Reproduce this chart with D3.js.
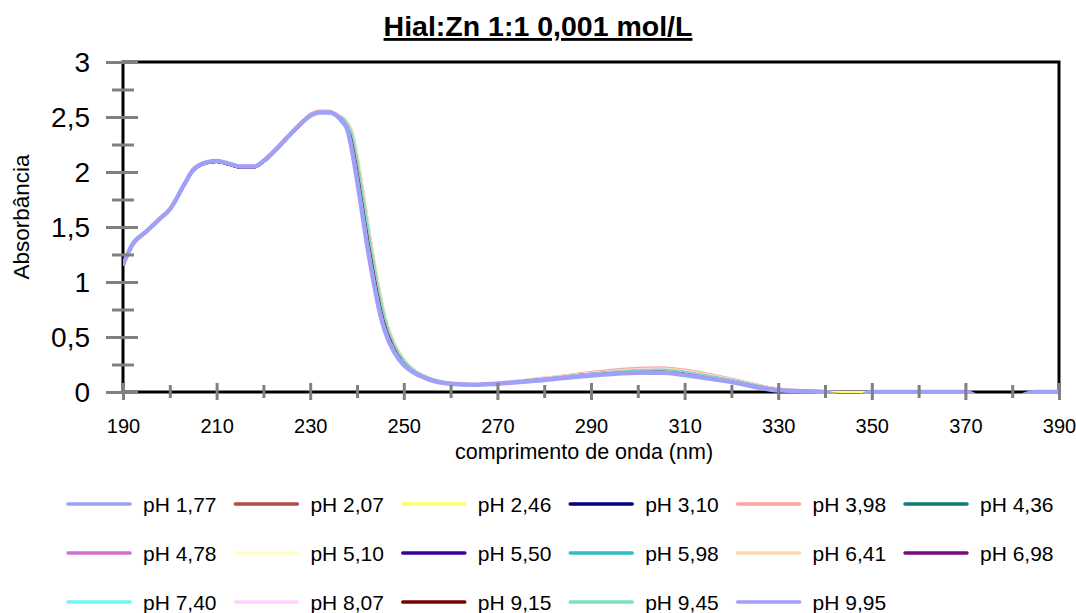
<!DOCTYPE html>
<html>
<head>
<meta charset="utf-8">
<script src="https://cdn.jsdelivr.net/npm/d3@7"></script>
<style>
  html, body { margin: 0; padding: 0; background: #fff; }
  svg { display: block; font-family: "Liberation Sans", Arial, Helvetica, sans-serif; }
</style>
</head>
<body>
<svg id="chart" width="1076" height="613"></svg>
<script>
// Wavelengths (nm) shared by every spectrum
const wavelengths = [190,192,195,198,200,203,205,208,210,213,215,218,220,223,225,228,230,232,234,236,
  237,238,239,240,241,242,243,244,245,246,248,
  250,252,255,260,265,
  270,280,290,300,305,310,320,330,
  340,345,350,360,370,375,380,385,390];

// Absorbance spectra, one array per pH
const ph177 = [1.16,1.34,1.47,1.58,1.67,1.88,2.02,2.09,2.10,2.07,2.05,2.05,2.10,2.22,2.31,2.44,2.51,2.54,2.54,2.50,
  2.46,2.40,2.23,1.98,1.72,1.44,1.18,0.94,0.73,0.57,0.37, 0.25,0.185,0.123,0.076,0.066,
  0.076,0.112,0.153,0.178,0.18,0.16,0.094,0.017, 0.002,-0.08,0,0,0,-0.08,-0.06,0,0];
const ph207 = [1.15,1.33,1.46,1.57,1.66,1.87,2.01,2.08,2.09,2.06,2.04,2.04,2.09,2.21,2.31,2.44,2.52,2.55,2.55,2.51,
  2.49,2.436,2.34,2.13,1.876,1.60,1.33,1.084,0.86,0.67,0.43, 0.29,0.205,0.135,0.082,0.07,
  0.082,0.125,0.172,0.205,0.21,0.19,0.113,0.027, 0.003,-0.08,0,0,0,-0.08,-0.06,0,0];
const ph246 = [1.15,1.33,1.45,1.57,1.66,1.87,2.01,2.08,2.10,2.07,2.05,2.05,2.09,2.21,2.30,2.43,2.51,2.54,2.55,2.51,
  2.50,2.45,2.38,2.18,1.93,1.66,1.38,1.13,0.90,0.70,0.45, 0.30,0.21,0.14,0.085,0.072,
  0.084,0.128,0.176,0.21,0.215,0.195,0.117,0.029, 0.004,0,0,0,0,-0.08,-0.06,0,0];
const ph310 = [1.15,1.33,1.46,1.57,1.66,1.87,2.01,2.08,2.09,2.06,2.04,2.04,2.09,2.21,2.30,2.43,2.51,2.54,2.54,2.51,
  2.485,2.43,2.32,2.105,1.85,1.576,1.305,1.06,0.84,0.655,0.42, 0.285,0.20,0.132,0.08,0.069,
  0.08,0.12,0.165,0.195,0.20,0.18,0.107,0.024, 0.002,-0.08,0,0,0,-0.08,-0.06,0,0];
const ph398 = [1.16,1.34,1.46,1.58,1.67,1.88,2.02,2.09,2.11,2.08,2.06,2.06,2.10,2.22,2.32,2.45,2.53,2.56,2.56,2.52,
  2.49,2.436,2.34,2.13,1.876,1.60,1.33,1.084,0.86,0.67,0.43, 0.295,0.21,0.138,0.085,0.072,
  0.086,0.132,0.182,0.22,0.225,0.204,0.123,0.032, 0.005,-0.08,0,0,0,-0.08,-0.06,0,0];
const ph436 = [1.15,1.33,1.46,1.57,1.66,1.87,2.01,2.08,2.10,2.07,2.05,2.05,2.09,2.21,2.31,2.44,2.51,2.54,2.54,2.51,
  2.495,2.443,2.36,2.155,1.903,1.632,1.355,1.107,0.88,0.685,0.44, 0.295,0.208,0.137,0.083,0.071,
  0.081,0.123,0.168,0.20,0.205,0.185,0.11,0.026, 0.003,-0.08,0,0,0,-0.08,-0.06,0,0];
const ph478 = [1.16,1.34,1.46,1.58,1.66,1.88,2.02,2.09,2.10,2.07,2.05,2.05,2.10,2.22,2.31,2.44,2.52,2.55,2.55,2.51,
  2.48,2.42,2.30,2.08,1.82,1.55,1.28,1.04,0.82,0.64,0.41, 0.28,0.198,0.13,0.08,0.069,
  0.08,0.12,0.164,0.194,0.20,0.18,0.106,0.024, 0.002,-0.08,0,0,0,-0.08,-0.06,0,0];
const ph510 = [1.15,1.33,1.45,1.57,1.66,1.87,2.01,2.08,2.09,2.06,2.04,2.04,2.09,2.21,2.30,2.43,2.51,2.54,2.54,2.51,
  2.50,2.45,2.37,2.17,1.92,1.65,1.37,1.12,0.89,0.70,0.45, 0.30,0.21,0.14,0.085,0.072,
  0.083,0.126,0.173,0.206,0.21,0.19,0.114,0.028, 0.003,-0.08,0,0,0,-0.08,-0.06,0,0];
const ph550 = [1.15,1.33,1.46,1.57,1.66,1.87,2.01,2.08,2.09,2.06,2.04,2.04,2.09,2.21,2.30,2.43,2.51,2.54,2.54,2.50,
  2.48,2.43,2.31,2.10,1.84,1.57,1.30,1.06,0.84,0.65,0.42, 0.283,0.20,0.132,0.08,0.069,
  0.08,0.12,0.165,0.196,0.20,0.18,0.107,0.024, 0.002,-0.08,0,0,0,-0.08,-0.06,0,0];
const ph598 = [1.15,1.33,1.46,1.57,1.66,1.87,2.01,2.08,2.10,2.07,2.05,2.05,2.09,2.21,2.31,2.44,2.51,2.54,2.55,2.51,
  2.495,2.44,2.36,2.15,1.90,1.63,1.35,1.10,0.88,0.685,0.44, 0.295,0.207,0.136,0.083,0.071,
  0.081,0.124,0.169,0.201,0.205,0.186,0.11,0.026, 0.003,-0.08,0,0,0,-0.08,-0.06,0,0];
const ph641 = [1.15,1.33,1.46,1.57,1.66,1.87,2.01,2.08,2.10,2.07,2.05,2.05,2.09,2.21,2.31,2.44,2.52,2.55,2.55,2.52,
  2.50,2.45,2.38,2.18,1.93,1.66,1.38,1.13,0.90,0.70,0.45, 0.30,0.21,0.14,0.085,0.072,
  0.084,0.128,0.176,0.21,0.215,0.196,0.117,0.029, 0.003,-0.08,0,0,0,-0.08,-0.06,0,0];
const ph698 = [1.15,1.33,1.46,1.57,1.66,1.87,2.01,2.08,2.09,2.06,2.04,2.04,2.09,2.21,2.30,2.43,2.51,2.54,2.54,2.50,
  2.48,2.42,2.30,2.08,1.82,1.55,1.28,1.04,0.82,0.64,0.41, 0.28,0.197,0.13,0.079,0.068,
  0.079,0.118,0.162,0.19,0.195,0.176,0.104,0.022, 0.002,-0.08,0,0,0,-0.08,-0.06,0,0];
const ph740 = [1.16,1.34,1.46,1.58,1.67,1.88,2.02,2.09,2.10,2.07,2.05,2.05,2.10,2.22,2.31,2.44,2.51,2.54,2.54,2.50,
  2.475,2.415,2.28,2.055,1.795,1.52,1.255,1.015,0.80,0.625,0.405, 0.27,0.195,0.13,0.078,0.067,
  0.078,0.116,0.16,0.186,0.19,0.171,0.10,0.02, 0.002,-0.08,0,0,0,-0.08,-0.06,0,0];
const ph807 = [1.15,1.33,1.46,1.57,1.66,1.87,2.01,2.08,2.10,2.07,2.05,2.05,2.10,2.22,2.31,2.44,2.52,2.55,2.55,2.51,
  2.495,2.44,2.36,2.15,1.90,1.63,1.355,1.105,0.88,0.685,0.44, 0.295,0.208,0.137,0.084,0.071,
  0.082,0.125,0.172,0.205,0.21,0.19,0.113,0.027, 0.003,-0.08,0,0,0,-0.08,-0.06,0,0];
const ph915 = [1.15,1.33,1.46,1.57,1.66,1.87,2.01,2.08,2.09,2.06,2.04,2.04,2.09,2.21,2.30,2.43,2.51,2.54,2.54,2.50,
  2.48,2.42,2.30,2.08,1.82,1.55,1.28,1.04,0.82,0.64,0.41, 0.28,0.198,0.13,0.08,0.069,
  0.08,0.12,0.165,0.195,0.20,0.18,0.107,0.024, 0.002,-0.08,0,0,0,-0.08,-0.06,0,0];
const ph945 = [1.15,1.33,1.46,1.57,1.66,1.87,2.01,2.08,2.10,2.07,2.05,2.05,2.09,2.21,2.31,2.44,2.51,2.54,2.54,2.51,
  2.49,2.435,2.34,2.13,1.875,1.60,1.33,1.085,0.86,0.67,0.43, 0.29,0.205,0.135,0.082,0.07,
  0.081,0.123,0.168,0.20,0.205,0.185,0.11,0.026, 0.003,-0.08,0,0,0,-0.08,-0.06,0,0];
const ph995 = [1.155,1.34,1.46,1.58,1.66,1.88,2.02,2.09,2.10,2.07,2.05,2.05,2.10,2.22,2.31,2.44,2.51,2.54,2.54,2.50,
  2.45,2.38,2.18,1.93,1.66,1.38,1.13,0.90,0.70,0.55,0.36, 0.245,0.18,0.12,0.075,0.065,
  0.075,0.11,0.15,0.175,0.175,0.155,0.09,0.015, 0,-0.08,0,0,0,-0.08,-0.06,0,0];

const seriesLabels = ["pH 1,77","pH 2,07","pH 2,46","pH 3,10","pH 3,98","pH 4,36",
  "pH 4,78","pH 5,10","pH 5,50","pH 5,98","pH 6,41","pH 6,98",
  "pH 7,40","pH 8,07","pH 9,15","pH 9,45","pH 9,95"];
const seriesValues = [ph177, ph207, ph246, ph310, ph398, ph436, ph478, ph510, ph550,
  ph598, ph641, ph698, ph740, ph807, ph915, ph945, ph995];
const seriesColors = ["#9f9ff5","#b04c4c","#ffff66","#000080","#ffa3a3","#0a7c70",
  "#d070d0","#ffffc0","#3a00a0","#30bfc0","#ffd8a8","#7a0a7a",
  "#70f5f5","#fcd4fc","#7a0000","#7fdfbf","#a0a0f8"];

const yTicks = [0, 0.5, 1, 1.5, 2, 2.5, 3];
const yMinorTicks = [0.25, 0.75, 1.25, 1.75, 2.25, 2.75];
const xTicks = d3.range(190, 391, 10);

const svg = d3.select("#chart");
const plotLeft = 123, plotRight = 1059, plotTop = 62, plotBottom = 392;

const x = d3.scaleLinear().domain([190, 390]).range([plotLeft, plotRight]);
const y = d3.scaleLinear().domain([0, 3]).range([plotBottom, plotTop]);

const comma = v => String(v).replace(".", ",");

// Title
svg.append("text")
  .attr("x", 538).attr("y", 36)
  .attr("text-anchor", "middle")
  .style("font-size", "28.5px").style("font-weight", "bold")
  .style("text-decoration", "underline")
  .text("Hial:Zn 1:1 0,001 mol/L");

// Plot frame
svg.append("rect")
  .attr("x", plotLeft).attr("y", plotTop)
  .attr("width", plotRight - plotLeft).attr("height", plotBottom - plotTop)
  .attr("fill", "none").attr("stroke", "#000").attr("stroke-width", 3);

// Spectra, clipped to the plot area
svg.append("clipPath").attr("id", "plotClip")
  .append("rect")
  .attr("x", plotLeft).attr("y", plotTop - 2)
  .attr("width", plotRight - plotLeft).attr("height", plotBottom - plotTop + 4);

const line = d3.line()
  .x((d, i) => x(wavelengths[i]))
  .y(d => y(d))
  .curve(d3.curveMonotoneX);

const plot = svg.append("g").attr("clip-path", "url(#plotClip)");
seriesValues.forEach((vals, k) => {
  plot.append("path")
    .datum(vals)
    .attr("d", line)
    .attr("fill", "none")
    .attr("stroke", seriesColors[k])
    .attr("stroke-width", k === seriesValues.length - 1 ? 4.5 : 2)
    .attr("stroke-linejoin", "round");
});

// Y axis: major ticks with labels, minor ticks
const yAxis = svg.append("g")
  .attr("transform", `translate(${plotLeft},0)`)
  .call(d3.axisLeft(y).tickValues(yTicks).tickFormat(comma).tickSize(0));
yAxis.select(".domain").remove();
yAxis.selectAll(".tick line")
  .attr("x1", -17).attr("x2", 15)
  .attr("stroke", "#7f7f7f").attr("stroke-width", 3);
yAxis.selectAll(".tick text")
  .attr("x", -33).attr("dy", "0.35em")
  .style("font-size", "28px").attr("fill", "#000");

const yMinor = svg.append("g")
  .attr("transform", `translate(${plotLeft},0)`)
  .call(d3.axisLeft(y).tickValues(yMinorTicks).tickFormat("").tickSize(0));
yMinor.select(".domain").remove();
yMinor.selectAll(".tick line")
  .attr("x1", -11).attr("x2", 11)
  .attr("stroke", "#7f7f7f").attr("stroke-width", 3);

// X axis
const xAxis = svg.append("g")
  .attr("transform", `translate(0,${plotBottom})`)
  .call(d3.axisBottom(x).tickValues(xTicks)
    .tickFormat(d => (d % 20 === 10 ? d : "")).tickSize(0));
xAxis.select(".domain").remove();
xAxis.selectAll(".tick line")
  .attr("y1", d => (d % 20 === 10 ? -9 : -7))
  .attr("y2", d => (d % 20 === 10 ? 8 : 6))
  .attr("stroke", "#7f7f7f").attr("stroke-width", 3);
xAxis.selectAll(".tick text")
  .attr("y", 41).attr("dy", null)
  .style("font-size", "20px").attr("fill", "#000");

// Axis titles
svg.append("text")
  .attr("x", 584).attr("y", 459)
  .attr("text-anchor", "middle")
  .style("font-size", "21.5px")
  .text("comprimento de onda (nm)");

svg.append("text")
  .attr("transform", "translate(29,217) rotate(-90)")
  .attr("text-anchor", "middle")
  .style("font-size", "22.5px")
  .text("Absorbância");

// Legend: 6 columns, 3 rows
const legend = svg.append("g");
seriesLabels.forEach((lab, k) => {
  const col = k % 6, row = Math.floor(k / 6);
  const lx = 68 + col * 167.4, ly = 504 + row * 49;
  legend.append("line")
    .attr("x1", lx).attr("x2", lx + 62)
    .attr("y1", ly).attr("y2", ly)
    .attr("stroke", seriesColors[k]).attr("stroke-width", 3.5)
    .attr("stroke-linecap", "round");
  legend.append("text")
    .attr("x", lx + 75).attr("y", ly + 7.5)
    .style("font-size", "21px")
    .text(lab);
});
</script>
</body>
</html>
